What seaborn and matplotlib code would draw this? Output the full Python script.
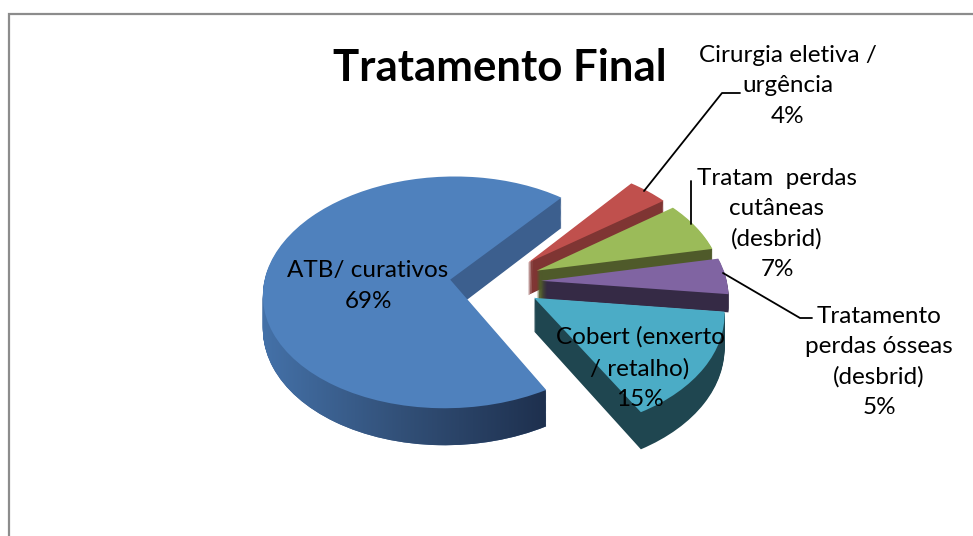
import numpy as np
import seaborn as sns
import matplotlib
matplotlib.use('Agg')
import matplotlib.pyplot as plt
from matplotlib.path import Path
from matplotlib.transforms import Affine2D, IdentityTransform, Transform

# dados do grafico
categorias = ['ATB/ curativos', 'Cobert (enxerto\n/ retalho)', 'Tratamento\nperdas ósseas\n(desbrid)',
              'Tratam  perdas\ncutâneas\n(desbrid)', 'Cirurgia eletiva /\nurgência']
valores = [69, 15, 5, 7, 4]
cores_topo = ['#4F81BD', '#4BACC6', '#8064A2', '#9BBB59', '#C0504D']
cores_lado = ['#3C5F8E', '#1F4650', '#352A45', '#4F5A2A', '#7F3533']
pos_rotulos = [(368, 286), (640, 368), (879, 362), (777, 224), (788, 86)]

W, H = 973, 536
CX, CY, SX, SY, P = 495.5, 282, 186, 115, 0.11
DEPTH = 33
# o roxo fica quase todo escondido atras do turquesa
DEPTH_FATIA = [DEPTH, DEPTH, 18, DEPTH, DEPTH]
EXPLODE = 0.245
START = 51

sns.set_style('white')
plt.rcParams['font.family'] = ['Lato', 'DejaVu Sans']

px = Affine2D().scale(1, -1).translate(0, H)


class Perspectiva(Transform):
    input_dims = 2
    output_dims = 2
    is_affine = False

    def __init__(self, z):
        super().__init__()
        self.z = z

    def transform_non_affine(self, values):
        values = np.asarray(values, dtype=float)
        w = 1 + P * values[:, 1]
        x = CX + SX * values[:, 0] / w
        y = CY + (self.z - SY * values[:, 1]) / w
        return np.column_stack([x, y])


fig = plt.figure(figsize=(W / 100, H / 100), dpi=100, facecolor='white')
ax = fig.add_axes([0, 0, 1, 1])

# gradiente da lateral da fatia azul
xs = np.arange(255, 560)
rampa = np.column_stack([np.interp(xs, [263, 400, 545], [68, 50, 30]),
                         np.interp(xs, [263, 400, 545], [113, 80, 48]),
                         np.interp(xs, [263, 400, 545], [168, 120, 78]),
                         np.full(len(xs), 255)]) / 255
ys = np.arange(270, 455)
grad = np.repeat(rampa[:, None, :], len(ys), axis=1).transpose(1, 0, 2)
grad[(ys[:, None] < 372) & (xs[None, :] > 440), 3] = 0

# ordem de desenho: azul, vermelho, verde, roxo, turquesa
ordem = [0, 4, 3, 2, 1]
lateral_azul = []
for z in range(DEPTH, -1, -1):
    cores = cores_topo if z == 0 else cores_lado
    wedges, _ = ax.pie(valores, explode=[EXPLODE] * len(valores), startangle=START,
                       counterclock=True, colors=cores, radius=1, frame=False)
    for i, wedge in enumerate(wedges):
        wedge.set_transform(Perspectiva(z) + px)
        wedge.set_edgecolor('none')
        wedge.set_linewidth(0)
        wedge.set_zorder(ordem[i] * 100 + (DEPTH - z) + 1 if z > 0 else ordem[i] * 100 + 60)
        wedge.set_visible(z <= DEPTH_FATIA[i])
    if z > 0:
        lateral_azul.append(wedges[0].get_transform().transform_path(wedges[0].get_path()))

# a lateral azul recebe uma imagem so, recortada pela uniao das camadas
im = ax.imshow(grad, extent=(xs[0], xs[-1] + 1, ys[-1] + 1, ys[0]), transform=px,
               origin='upper', aspect='auto', zorder=50, interpolation='bilinear')
im.set_clip_path(Path.make_compound_path(*lateral_azul), transform=IdentityTransform())

ax.set_xlim(0, W)
ax.set_ylim(0, H)
ax.axis('off')

# moldura (so topo e esquerda aparecem)
ax.plot([9, 9, W], [H, 14, 14], color='#8C8C8C', lw=1.6, transform=px, zorder=1000, solid_joinstyle='miter')

# linhas de chamada
linhas = [([644, 722, 740], [191, 93, 93]), ([691, 691], [224, 181]), ([723, 800, 812], [273, 318, 318])]
for lx, ly in linhas:
    ax.plot(lx, ly, color='black', lw=1.3, transform=px, zorder=1001)

# rotulos
percent = [f'{v}%' for v in valores]
for cat, pct, (x, y) in zip(categorias, percent, pos_rotulos):
    ax.text(x, y, cat + '\n' + pct, transform=px, ha='center', va='center', fontsize=17.5,
            linespacing=1.55, color='black', zorder=1002)

ax.text(500, 68, 'Tratamento Final', transform=px, ha='center', va='center', fontsize=31.5,
        fontweight='bold', color='black', zorder=1002)

fig.savefig('out.png', dpi=100)
